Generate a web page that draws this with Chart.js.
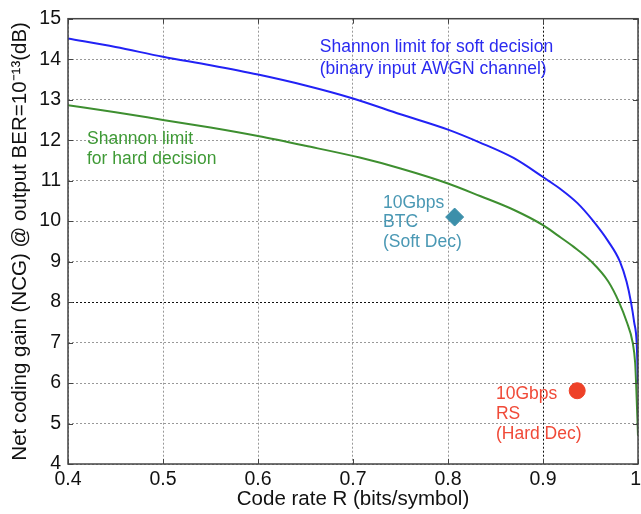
<!DOCTYPE html>
<html><head><meta charset="utf-8">
<script src="https://cdn.jsdelivr.net/npm/chart.js@4"></script>
<style>html,body{margin:0;padding:0;background:#fff}#wrap{width:641px;height:514px}</style>
</head><body><div id="wrap"><canvas id="c" width="641" height="514"></canvas></div>
<script>
const xTicks = [0.4, 0.5, 0.6, 0.7, 0.8, 0.9, 1.0];
const xTickLabels = ['0.4', '0.5', '0.6', '0.7', '0.8', '0.9', '1'];
const yTicks = [4, 5, 6, 7, 8, 9, 10, 11, 12, 13, 14, 15];
const softRate = [0.4,0.45,0.5,0.55,0.6,0.65,0.7,0.75,0.8,0.8337,0.869,0.9,0.9056,0.918,0.936,0.953,0.9687,0.981,0.988,0.9926,0.996,0.9986,1.0];
const softNCG  = [14.51,14.3,14.06,13.85,13.62,13.35,13.03,12.64,12.26,11.94,11.56,11.09,11.0,10.8,10.45,10.0,9.5,9.0,8.5,8.0,7.5,7.0,6.0];
const hardRate = [0.4,0.45,0.5,0.55,0.6,0.65,0.707,0.75,0.8,0.8337,0.869,0.9,0.9147,0.932,0.951,0.9687,0.98,0.988,0.9944,0.997,0.998,1.0];
const hardNCG  = [12.86,12.69,12.5,12.31,12.1,11.86,11.57,11.3,10.93,10.62,10.28,9.9,9.66,9.37,9.0,8.51,8.0,7.52,7.0,6.5,6.0,4.7];
const btcPoint = [{x:0.807, y:10.1}];
const rsPoint  = [{x:0.936, y:5.81}];
const toXY = (xs, ys) => xs.map((x,i)=>({x, y: ys[i]}));

const FONT = '"Liberation Sans", Arial, sans-serif';
const notes = [
  {x:0.665, y:14.29, lines:['Shannon limit for soft decision','(binary input AWGN channel)'], color:'#2a2af0', lh:22},
  {x:0.42, y:12.02, lines:['Shannon limit','for hard decision'], color:'#3f9a36', lh:19.5},
  {x:0.7316, y:10.45, lines:['10Gbps','BTC','(Soft Dec)'], color:'#4a98b4', lh:19.5},
  {x:0.8505, y:5.72, lines:['10Gbps','RS','(Hard Dec)'], color:'#f04a38', lh:20}
];

const framePlugin = {
  id:'frame',
  afterDatasetsDraw(chart){
    const {ctx, scales:{x,y}} = chart;
    ctx.save();
    ctx.font = '17.5px ' + FONT;
    ctx.textBaseline = 'middle';
    ctx.textAlign = 'left';
    notes.forEach(n=>{
      ctx.fillStyle = n.color;
      const px = x.getPixelForValue(n.x), py = y.getPixelForValue(n.y);
      n.lines.forEach((t,i)=>ctx.fillText(t, px, py + i*n.lh));
    });
    ctx.restore();
  },
  afterDraw(chart){
    const {ctx, chartArea:a, scales:{x,y}, width} = chart;
    ctx.save();
    ctx.strokeStyle = '#444';
    ctx.lineWidth = 1;
    ctx.setLineDash([]);
    xTicks.forEach(v=>{
      const px = Math.round(x.getPixelForValue(v))+0.5;
      ctx.beginPath(); ctx.moveTo(px,a.bottom); ctx.lineTo(px,a.bottom-5);
      ctx.moveTo(px,a.top); ctx.lineTo(px,a.top+5); ctx.stroke();
    });
    yTicks.forEach(v=>{
      const py = Math.round(y.getPixelForValue(v))+0.5;
      ctx.beginPath(); ctx.moveTo(a.left,py); ctx.lineTo(a.left+5,py);
      ctx.moveTo(a.right,py); ctx.lineTo(a.right-5,py); ctx.stroke();
    });
    ctx.strokeStyle = '#444';
    ctx.lineWidth = 1.5;
    ctx.strokeRect(a.left, a.top, a.right-a.left, a.bottom-a.top);
    ctx.fillStyle = '#111';
    ctx.font = '19.5px ' + FONT;
    ctx.textAlign = 'center';
    ctx.textBaseline = 'top';
    xTicks.forEach((v,i)=>{
      const w = ctx.measureText(xTickLabels[i]).width;
      const px = Math.min(x.getPixelForValue(v), width - w/2);
      ctx.fillText(xTickLabels[i], px, a.bottom + 6);
    });
    ctx.restore();
  }
};

new Chart(document.getElementById('c'), {
  type:'scatter',
  data:{datasets:[
    {data:toXY(softRate, softNCG), showLine:true, borderColor:'#2222f5', borderWidth:2, pointRadius:0, cubicInterpolationMode:'monotone', order:2},
    {data:toXY(hardRate, hardNCG), showLine:true, borderColor:'#3e8f30', borderWidth:2, pointRadius:0, cubicInterpolationMode:'monotone', order:2},
    {data:btcPoint, pointStyle:'rectRot', pointRadius:9, backgroundColor:'#3c8faa', borderColor:'#3c8faa', order:1},
    {data:rsPoint, pointStyle:'circle', pointRadius:8, borderWidth:1, backgroundColor:'#ee4128', borderColor:'#ee4128', order:1}
  ]},
  options:{
    responsive:false, animation:false, devicePixelRatio:1,
    layout:{autoPadding:false, padding:{top:15, right:3, left:0, bottom:0}},
    plugins:{legend:{display:false}, tooltip:{enabled:false}},
    scales:{
      x:{type:'linear', min:0.4, max:1.0,
        afterBuildTicks(s){ s.ticks = xTicks.map(v=>({value:v})); },
        afterFit(s){ s.height = 50; },
        grid:{drawTicks:false, color:c=> (c.tick && Math.abs(c.tick.value-0.9)<1e-6) ? '#111' : '#999', lineWidth:1},
        border:{display:false, dash:[2,2]},
        ticks:{display:false},
        title:{display:true, text:'Code rate R (bits/symbol)', color:'#111', padding:{top:0,bottom:2},
          font:{size:20.5, family:FONT}}
      },
      y:{type:'linear', min:4, max:15,
        afterBuildTicks(s){ s.ticks = yTicks.map(v=>({value:v})); },
        afterFit(s){ s.width = 68; },
        grid:{drawTicks:false, color:c=> (c.tick && c.tick.value===8) ? '#111' : '#999', lineWidth:1},
        border:{display:false, dash:[2,2]},
        ticks:{padding:7, color:'#111', font:{size:19.5, family:FONT}},
        title:{display:true, text:'Net coding gain (NCG) @ output BER=10⁻¹³(dB)', color:'#111', padding:{top:8,bottom:0},
          font:{size:20.5, family:FONT}}
      }
    }
  },
  plugins:[framePlugin]
});
</script></body></html>
